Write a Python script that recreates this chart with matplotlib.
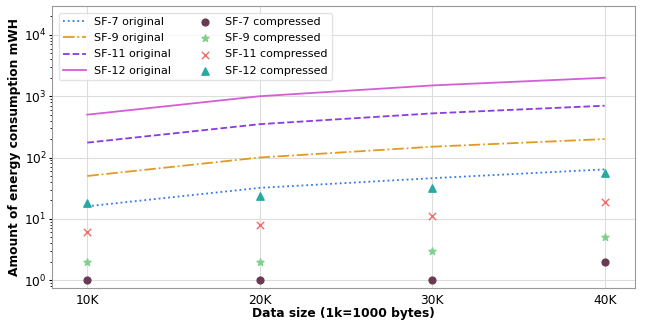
import matplotlib
matplotlib.use("Agg")
import matplotlib.pyplot as plt

sizes = [10, 20, 30, 40]
size_labels = ["10K", "20K", "30K", "40K"]

sf7_orig = [16, 32, 46, 64]
sf9_orig = [50, 100, 150, 200]
sf11_orig = [175, 350, 525, 700]
sf12_orig = [500, 1000, 1500, 2000]

sf7_comp = [1, 1, 1, 2]
sf9_comp = [2, 2, 3, 5]
sf11_comp = [6, 8, 11, 19]
sf12_comp = [18, 24, 32, 55]

fig, ax = plt.subplots(figsize=(6.45, 3.23), dpi=100)

ax.plot(sizes, sf7_orig, ':', color='#3377ee', lw=1.3, label='SF-7 original')
ax.plot(sizes, sf9_orig, '-.', color='#e39b1e', lw=1.3, label='SF-9 original')
ax.plot(sizes, sf11_orig, '--', color='#8a3be2', lw=1.3, label='SF-11 original')
ax.plot(sizes, sf12_orig, '-', color='#d45ed4', lw=1.3, label='SF-12 original')

ax.scatter(sizes, sf7_comp, marker='o', color='#6b3a52', s=24, label='SF-7 compressed', zorder=3)
ax.scatter(sizes, sf9_comp, marker='*', color='#7fd08a', s=28, label='SF-9 compressed', zorder=3)
ax.scatter(sizes, sf11_comp, marker='x', color='#f26a6a', s=28, linewidths=1, label='SF-11 compressed', zorder=3)
ax.scatter(sizes, sf12_comp, marker='^', color='#26aaa0', s=28, label='SF-12 compressed', zorder=3)

ax.set_yscale('log')
ax.set_ylim(0.74, 29500)
ax.set_xlim(7.97, 41.74)
ax.set_xticks(sizes)
ax.set_xticklabels(size_labels)
ax.tick_params(labelsize=8.8, pad=2)
ax.tick_params(axis='x', length=0, pad=4)
ax.tick_params(axis='y', which='major', length=2)
ax.tick_params(axis='y', which='minor', length=1.5)
ax.grid(True, color='#dddddd', lw=0.8)
for s in ax.spines.values():
    s.set_color('#999999')

ax.set_xlabel('Data size (1k=1000 bytes)', fontsize=8.8, fontweight='bold', labelpad=0)
ax.set_ylabel('Amount of energy consumption mWH', fontsize=8.8, fontweight='bold', labelpad=2)

ax.legend(ncol=2, loc='upper left', fontsize=8, framealpha=0.8, edgecolor='#dddddd',
          borderaxespad=0.6, labelspacing=0.55)

plt.subplots_adjust(left=0.081, right=0.984, top=0.981, bottom=0.108)
plt.savefig('out.png', dpi=100)
